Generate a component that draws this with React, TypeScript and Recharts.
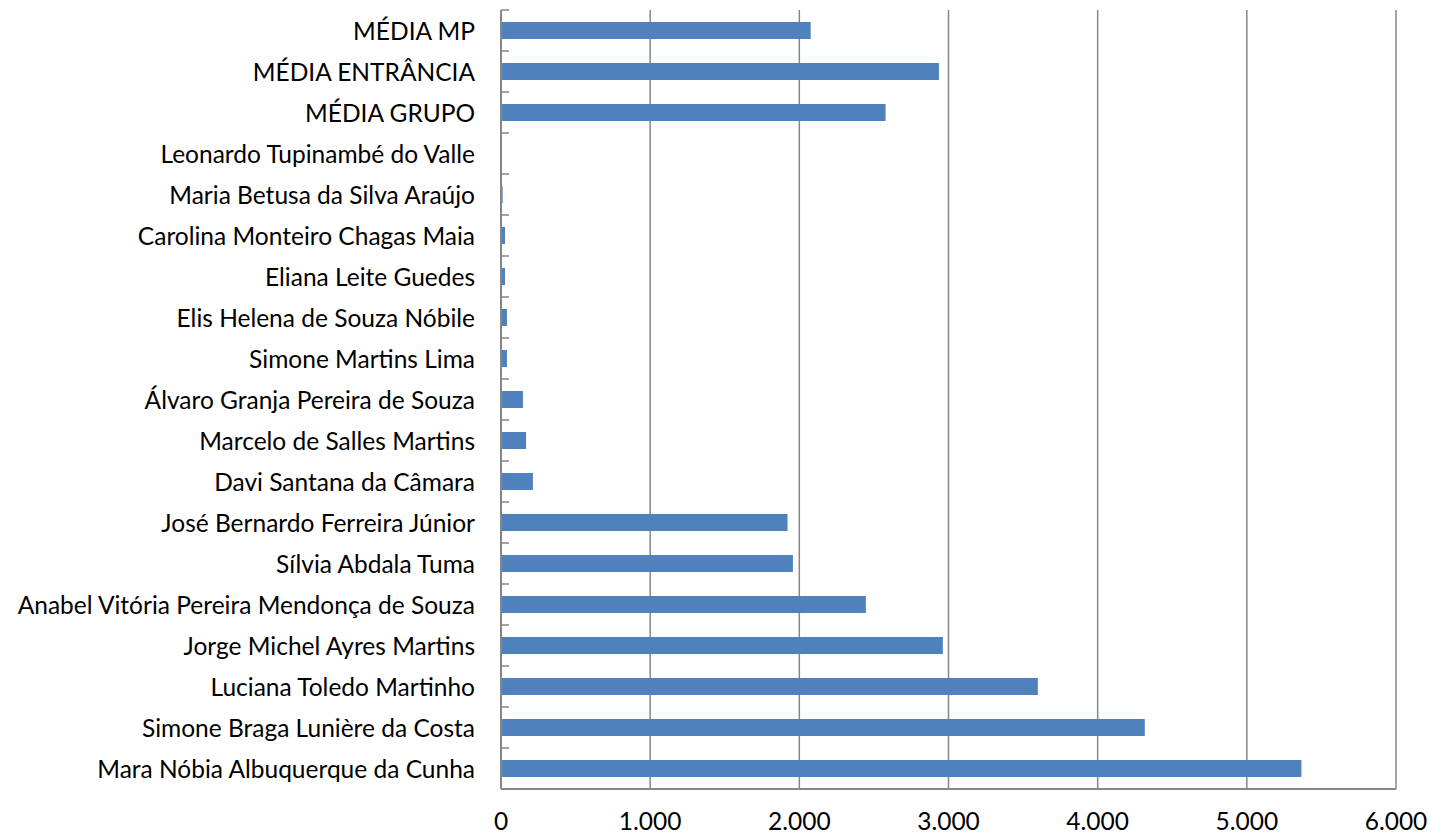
import { BarChart, Bar, XAxis, YAxis, CartesianGrid } from 'recharts'

const names = [
  'MÉDIA MP',
  'MÉDIA ENTRÂNCIA',
  'MÉDIA GRUPO',
  'Leonardo Tupinambé do Valle',
  'Maria Betusa da Silva Araújo',
  'Carolina Monteiro Chagas Maia',
  'Eliana Leite Guedes',
  'Elis Helena de Souza Nóbile',
  'Simone Martins Lima',
  'Álvaro Granja Pereira de Souza',
  'Marcelo de Salles Martins',
  'Davi Santana da Câmara',
  'José Bernardo Ferreira Júnior',
  'Sílvia Abdala Tuma',
  'Anabel Vitória Pereira Mendonça de Souza',
  'Jorge Michel Ayres Martins',
  'Luciana Toledo Martinho',
  'Simone Braga Lunière da Costa',
  'Mara Nóbia Albuquerque da Cunha',
]

const values = [
  2076, 2936, 2578, 0, 11, 27, 27, 40, 40, 147, 168, 214,
  1921, 1957, 2446, 2962, 3599, 4316, 5366,
]

const xTicks = [0, 1000, 2000, 3000, 4000, 5000, 6000]

const data = names.map((name, i) => ({ name, value: values[i] }))

const WIDTH = 1431
const HEIGHT = 836
const TOP = 10
const X_AXIS_H = 47
const PLOT_H = HEIGHT - TOP - X_AXIS_H
const GRAY = '#868686'
const FONT = 'Lato, "Open Sans", sans-serif'

const fmt = (v: number) => String(v).replace(/\B(?=(\d{3})+(?!\d))/g, '.')

function CategoryTick(props: any) {
  const { x, y, payload, index } = props
  const band = PLOT_H / names.length
  return (
    <g>
      <line x1={x} x2={x + 8} y1={y - band / 2} y2={y - band / 2} stroke={GRAY} strokeWidth={1.5} />
      {index === names.length - 1 && (
        <line x1={x} x2={x + 8} y1={y + band / 2} y2={y + band / 2} stroke={GRAY} strokeWidth={1.5} />
      )}
      <text
        x={x - 26}
        y={y}
        textAnchor="end"
        dominantBaseline="central"
        fill="#000"
        fontSize={24.5}
        fontFamily={FONT}
      >
        {payload.value}
      </text>
    </g>
  )
}

export default function App() {
  return (
    <div style={{ position: 'absolute', left: 0, top: 0, background: '#fff' }}>
      <BarChart
        width={WIDTH}
        height={HEIGHT}
        data={data}
        layout="vertical"
        margin={{ top: TOP, right: 35, bottom: 0, left: 0 }}
        barSize={17}
      >
        <CartesianGrid horizontal={false} stroke={GRAY} strokeWidth={1.5} />
        <XAxis
          type="number"
          domain={[0, 6000]}
          ticks={xTicks}
          tickFormatter={fmt}
          height={X_AXIS_H}
          axisLine={{ stroke: GRAY, strokeWidth: 2 }}
          tickLine={false}
          tickMargin={18}
          tick={{ fill: '#000', fontSize: 24.5, fontFamily: FONT }}
          interval={0}
        />
        <YAxis
          type="category"
          dataKey="name"
          width={501}
          axisLine={{ stroke: GRAY, strokeWidth: 2 }}
          tickLine={false}
          tickSize={0}
          tickMargin={0}
          interval={0}
          tick={<CategoryTick />}
        />
        <Bar dataKey="value" fill="#4F81BD" isAnimationActive={false} />
      </BarChart>
    </div>
  )
}
